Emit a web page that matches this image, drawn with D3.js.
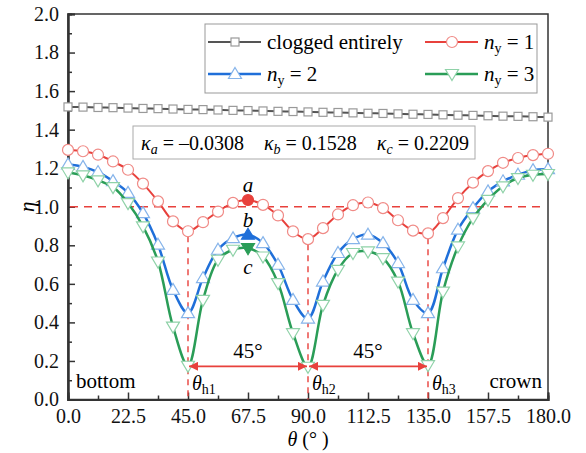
<!DOCTYPE html>
<html><head><meta charset="utf-8">
<script src="https://cdn.jsdelivr.net/npm/d3@7"></script>
<style>
body{margin:0;background:#fff;}
</style></head>
<body><svg id="c" width="586" height="453"></svg>
<script>
const theta = d3.range(33).map(i => i * 5.625);
const clogged = [1.518,1.517,1.515,1.514,1.512,1.510,1.509,1.507,1.505,1.504,1.502,1.500,1.499,1.497,1.495,1.494,1.492,1.490,1.489,1.487,1.485,1.484,1.482,1.480,1.479,1.477,1.475,1.474,1.472,1.470,1.469,1.467,1.465];
const ny1 = [1.295,1.288,1.270,1.235,1.192,1.120,1.028,0.924,0.873,0.920,0.975,1.020,1.035,1.010,0.955,0.872,0.832,0.889,0.960,1.008,1.022,0.993,0.930,0.876,0.862,0.941,1.045,1.125,1.185,1.228,1.253,1.268,1.275];
const ny2 = [1.220,1.207,1.180,1.133,1.072,0.967,0.803,0.569,0.448,0.630,0.777,0.837,0.855,0.811,0.699,0.517,0.420,0.612,0.760,0.832,0.855,0.811,0.708,0.517,0.448,0.681,0.881,0.993,1.080,1.132,1.166,1.190,1.195];
const ny3 = [1.178,1.163,1.137,1.102,1.019,0.898,0.716,0.378,0.175,0.517,0.725,0.777,0.785,0.742,0.604,0.344,0.170,0.491,0.673,0.760,0.768,0.733,0.612,0.344,0.178,0.560,0.794,0.941,1.036,1.106,1.149,1.166,1.170];
const xTicks = [0,22.5,45,67.5,90,112.5,135,157.5,180];
const yTicks = [0,0.2,0.4,0.6,0.8,1.0,1.2,1.4,1.6,1.8,2.0];
const holeAngles = [45,90,135];
const holeLabels = ["h1","h2","h3"];
const kappaText = [["a","–0.0308"],["b","0.1528"],["c","0.2209"]];
const markIdx = 12; // 67.5°

const FONT = "'Liberation Serif', 'Times New Roman', Times, serif";
const svg = d3.select("#c");
const L = 68, T = 14, W = 480, H = 385.5;
const x = d3.scaleLinear().domain([0,180]).range([L, L+W]);
const y = d3.scaleLinear().domain([0,2]).range([T+H, T]);
const red = "#e8413c";

// frame
svg.append("rect").attr("x",L).attr("y",T).attr("width",W).attr("height",H)
  .attr("fill","none").attr("stroke","#333").attr("stroke-width",1.5);

// axes
svg.append("g").attr("transform",`translate(0,${T+H})`)
  .call(d3.axisBottom(x).tickValues(d3.range(11.25,180,22.5)).tickSize(-4).tickFormat(""));
svg.append("g").attr("transform",`translate(0,${T+H})`)
  .call(d3.axisBottom(x).tickValues(xTicks).tickSize(-7).tickPadding(9).tickFormat(d3.format(".1f")));
svg.append("g").attr("transform",`translate(${L},0)`)
  .call(d3.axisLeft(y).tickValues(d3.range(0.1,2,0.2)).tickSize(-4).tickFormat(""));
svg.append("g").attr("transform",`translate(${L},0)`)
  .call(d3.axisLeft(y).tickValues(yTicks).tickSize(-7).tickPadding(9).tickFormat(d3.format(".1f")));
svg.selectAll(".domain").attr("stroke","#333").attr("stroke-width",2);
svg.selectAll(".tick line").attr("stroke","#333").attr("stroke-width",1.5);
svg.selectAll(".tick text").attr("font-size",20).attr("fill","#111");

// axis titles
svg.append("text").attr("transform",`translate(27,${y(1.0)}) rotate(-90)`)
  .attr("text-anchor","middle").attr("dy","0.35em").attr("font-size",21).attr("font-style","italic").text("η");
const xt = svg.append("text").attr("x",x(90)).attr("y",446).attr("text-anchor","middle").attr("font-size",20);
xt.append("tspan").attr("font-style","italic").text("θ");
xt.append("tspan").text(" (° )");

// reference dashed lines
svg.append("line").attr("x1",x(0)+2).attr("x2",x(178.5)).attr("y1",y(1)).attr("y2",y(1))
  .attr("stroke",red).attr("stroke-width",1.6).attr("stroke-dasharray","8,6");
holeAngles.forEach(a=>{
  const i = theta.indexOf(a);
  svg.append("line").attr("x1",x(a)).attr("x2",x(a)).attr("y1",y(ny1[i])+5).attr("y2",y(0))
    .attr("stroke",red).attr("stroke-width",1.4).attr("stroke-dasharray","6,5");
});

// series
const line = d3.line().x((d,i)=>x(theta[i])).y(d=>y(d)).curve(d3.curveCatmullRom.alpha(0.5));
const series = [
  {v:clogged, line:"#555", mk:"#999", sym:"square", w:2},
  {v:ny1, line:red, mk:"#f08a86", sym:"circle", w:2},
  {v:ny2, line:"#1f6fd9", mk:"#86b4ea", sym:"tri", w:2.5},
  {v:ny3, line:"#2a9d57", mk:"#8fd2a8", sym:"tridown", w:2.5}
];
function marker(g, sym, cx, cy, stroke, fill){
  if(sym==="square") g.append("rect").attr("x",cx-4).attr("y",cy-4).attr("width",8).attr("height",8)
      .attr("fill",fill).attr("stroke",stroke).attr("stroke-width",1.2);
  else if(sym==="circle") g.append("circle").attr("cx",cx).attr("cy",cy).attr("r",5.5)
      .attr("fill",fill).attr("stroke",stroke).attr("stroke-width",1.2);
  else if(sym==="tri") g.append("path").attr("d",`M${cx},${cy-6.5}L${cx+6.5},${cy+4.5}L${cx-6.5},${cy+4.5}Z`)
      .attr("fill",fill).attr("stroke",stroke).attr("stroke-width",1.2);
  else g.append("path").attr("d",`M${cx},${cy+6.5}L${cx+6.5},${cy-4.5}L${cx-6.5},${cy-4.5}Z`)
      .attr("fill",fill).attr("stroke",stroke).attr("stroke-width",1.2);
}
series.forEach((s,si)=>{
  svg.append("path").datum(s.v).attr("d",line).attr("fill","none").attr("stroke",s.line).attr("stroke-width",s.w);
  const g = svg.append("g");
  s.v.forEach((d,i)=>{
    if(si>0 && i===markIdx) marker(g, s.sym, x(theta[i]), y(d), s.line, s.line);
    else marker(g, s.sym, x(theta[i]), y(d), s.mk, "#fff");
  });
});

// a b c labels
[["a",ny1,-14],["b",ny2,-14],["c",ny3,20]].forEach(([t,arr,dy])=>{
  svg.append("text").attr("x",x(theta[markIdx])).attr("y",y(arr[markIdx])+dy).attr("text-anchor","middle")
    .attr("dy","0.3em").attr("font-size",21).attr("font-style","italic").text(t);
});

// arrows
const defs = svg.append("defs");
defs.append("marker").attr("id","ah").attr("viewBox","0 0 10 10").attr("refX",10).attr("refY",5)
  .attr("markerWidth",6).attr("markerHeight",5).attr("orient","auto-start-reverse")
  .append("path").attr("d","M0,0L10,5L0,10Z").attr("fill",red);
const arrowY = y(0.172);
for(let k=0;k<2;k++){
  svg.append("line").attr("x1",x(holeAngles[k])+1).attr("x2",x(holeAngles[k+1])-1).attr("y1",arrowY).attr("y2",arrowY)
    .attr("stroke",red).attr("stroke-width",1.8).attr("marker-start","url(#ah)").attr("marker-end","url(#ah)");
  svg.append("text").attr("x",(x(holeAngles[k])+x(holeAngles[k+1]))/2).attr("y",arrowY-8)
    .attr("text-anchor","middle").attr("font-size",21).text("45°");
}
// theta h labels
holeAngles.forEach((a,i)=>{
  const t = svg.append("text").attr("x",x(a)+4).attr("y",390).attr("font-size",20);
  t.append("tspan").attr("font-style","italic").text("θ");
  t.append("tspan").attr("dy",4).attr("font-size",14).text(holeLabels[i]);
});
svg.append("text").attr("x",L+8).attr("y",388).attr("font-size",21).text("bottom");
svg.append("text").attr("x",L+W-6).attr("y",388).attr("text-anchor","end").attr("font-size",21).text("crown");

// kappa box
svg.append("rect").attr("x",133).attr("y",126).attr("width",342).attr("height",33)
  .attr("fill","#fff").attr("stroke","#aaa").attr("stroke-width",1);
const kt = svg.append("text").attr("x",305).attr("y",150).attr("text-anchor","middle").attr("font-size",20);
kappaText.forEach(([s,v],i)=>{
  kt.append("tspan").attr("font-style","italic").text((i>0?"\u2002\u2002":"")+"κ");
  kt.append("tspan").attr("dy",4).attr("font-size",14).attr("font-style","italic").text(s);
  kt.append("tspan").attr("dy",-4).text(" = "+v);
});

// legend
svg.append("rect").attr("x",205).attr("y",24).attr("width",332).attr("height",69)
  .attr("fill","#fff").attr("stroke","#999").attr("stroke-width",1);
const leg = [
  {s:0, x:208, y:42, label:"clogged entirely"},
  {s:1, x:425, y:42, n:"1"},
  {s:2, x:208, y:74, n:"2"},
  {s:3, x:425, y:74, n:"3"}
];
leg.forEach(l=>{
  const s = series[l.s];
  svg.append("line").attr("x1",l.x).attr("x2",l.x+53).attr("y1",l.y).attr("y2",l.y).attr("stroke",s.line).attr("stroke-width",s.w);
  marker(svg.append("g"), s.sym, l.x+27, l.y, s.mk, "#fff");
  const t = svg.append("text").attr("x",l.x+59).attr("y",l.y+7).attr("font-size",21);
  if(l.label) t.text(l.label);
  else {
    t.append("tspan").attr("font-style","italic").text("n");
    t.append("tspan").attr("dy",4).attr("font-size",14).text("y");
    t.append("tspan").attr("dy",-4).text(" = "+l.n);
  }
});
svg.selectAll("text").attr("font-family",FONT).style("font-family",FONT);
</script></body></html>
